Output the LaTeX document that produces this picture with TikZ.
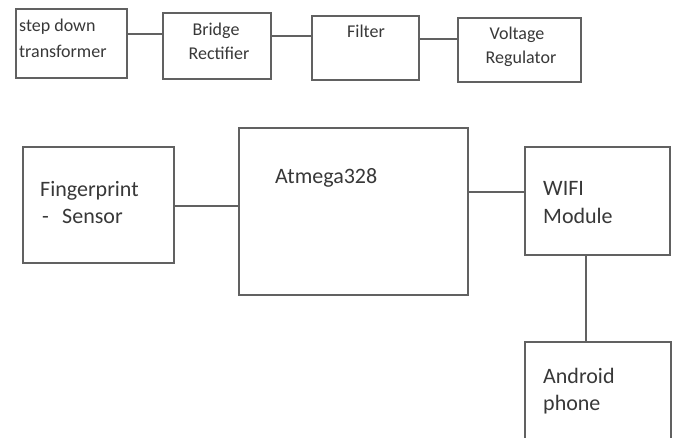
\documentclass[tikz,border=0pt]{standalone}
\usepackage{fontspec}
\setmainfont{Carlito}
\begin{document}
\begin{tikzpicture}[x=1pt,y=-1pt,
  box/.style={draw=black!62,line width=1.1pt,rectangle,inner sep=0pt,outer sep=0pt,anchor=north west},
  conn/.style={draw=black!62,line width=1.1pt},
  smalltxt/.style={inner sep=0pt,text=black!78,font=\fontsize{18}{22}\selectfont},
  bigtxt/.style={inner sep=0pt,text=black!78,font=\fontsize{22}{26}\selectfont}]
\useasboundingbox (0,0) rectangle (675,437);
\clip (0,0) rectangle (675,437);
\fill[white] (0,0) rectangle (675,437);
% boxes
\node[box,minimum width=111pt,minimum height=69pt] (b1) at (16,9) {};
\node[box,minimum width=108pt,minimum height=66pt] (b2) at (163,13) {};
\node[box,minimum width=107pt,minimum height=64pt] (b3) at (312,16) {};
\node[box,minimum width=123pt,minimum height=64pt] (b4) at (458,18) {};
\node[box,minimum width=151pt,minimum height=116pt] (fp) at (23,147) {};
\node[box,minimum width=229pt,minimum height=167pt] (at) at (239,128) {};
\node[box,minimum width=145pt,minimum height=108pt] (wifi) at (525,147) {};
\node[box,minimum width=146pt,minimum height=115pt] (andr) at (525,342) {};
% connector levels
\coordinate (y1) at (0,34);
\coordinate (y2) at (0,36);
\coordinate (y3) at (0,39);
\coordinate (y4) at (0,206);
\coordinate (y5) at (0,192);
\coordinate (x6) at (586,0);
\draw[conn] (b1.east |- y1) -- (b2.west |- y1);
\draw[conn] (b2.east |- y2) -- (b3.west |- y2);
\draw[conn] (b3.east |- y3) -- (b4.west |- y3);
\draw[conn] (fp.east |- y4) -- (at.west |- y4);
\draw[conn] (at.east |- y5) -- (wifi.west |- y5);
\draw[conn] (wifi.south -| x6) -- (andr.north -| x6);
% texts
\node[smalltxt,anchor=base west] (t1a) at (19,31) {step down};
\node[smalltxt,anchor=base west] (t1b) at (19,57) {transformer};
\node[smalltxt,anchor=base] (t2a) at (216,35) {Bridge};
\node[smalltxt,anchor=base] (t2b) at (219,59) {Rectifier};
\node[smalltxt,anchor=base] (t3) at (366,37) {Filter};
\node[smalltxt,anchor=base] (t4a) at (517,39) {Voltage};
\node[smalltxt,anchor=base] (t4b) at (521,63) {Regulator};
\node[bigtxt,anchor=base west] (t5a) at (40,196) {Fingerprint};
\node[bigtxt,anchor=base west] (t5d) at (42,223) {-};
\node[bigtxt,anchor=base west] (t5b) at (62,223) {Sensor};
\node[bigtxt,anchor=base west] (t6) at (275,183) {Atmega328};
\node[bigtxt,anchor=base west] (t7a) at (543,195) {WIFI};
\node[bigtxt,anchor=base west] (t7b) at (543,223) {Module};
\node[bigtxt,anchor=base west] (t8a) at (543,383) {Android};
\node[bigtxt,anchor=base west] (t8b) at (543,410) {phone};
\end{tikzpicture}
\end{document}
